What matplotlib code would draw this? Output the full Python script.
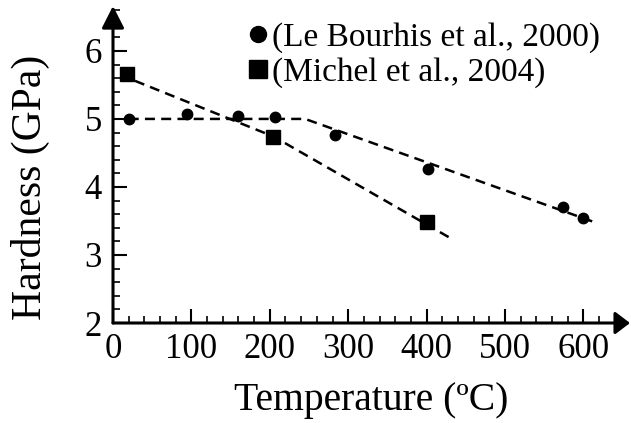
import matplotlib
matplotlib.use("Agg")
import matplotlib.pyplot as plt
from matplotlib.lines import Line2D
from matplotlib.ticker import MultipleLocator

plt.rcParams['font.family'] = ['Liberation Serif', 'DejaVu Serif']

# Le Bourhis et al., 2000 (circles)
bourhis_temp = [20, 94, 159, 207, 283, 402, 574, 600]
bourhis_hard = [5.00, 5.07, 5.05, 5.03, 4.77, 4.26, 3.70, 3.54]

# Michel et al., 2004 (squares)
michel_temp = [18, 204, 400]
michel_hard = [5.66, 4.74, 3.48]

# dashed guide lines through each data set
bourhis_fit_temp = [20, 245, 617]
bourhis_fit_hard = [5.00, 5.00, 3.47]
michel_fit_temp = [28, 205, 430]
michel_fit_hard = [5.56, 4.74, 3.25]

labels = ["(Le Bourhis et al., 2000)", "(Michel et al., 2004)"]

fig = plt.figure(figsize=(6.31, 4.23), dpi=100)
ax = fig.add_axes([113 / 631, 100 / 423, 517 / 631, 317 / 423])

ax.plot(bourhis_fit_temp, bourhis_fit_hard, color='k', lw=1.8, dashes=(4, 2.5))
ax.plot(michel_fit_temp, michel_fit_hard, color='k', lw=1.8, dashes=(4, 2.5))
ax.plot(bourhis_temp, bourhis_hard, 'o', color='k', ms=7.5, clip_on=False)
ax.plot(michel_temp, michel_hard, 's', color='k', ms=10, clip_on=False)

ax.set_xlim(0, 659.4)
ax.set_ylim(2, 6.66)
ax.xaxis.set_minor_locator(MultipleLocator(20))
ax.yaxis.set_minor_locator(MultipleLocator(0.2))
ax.set_xticks(range(0, 601, 100))
ax.set_yticks(range(2, 7))

for s in ax.spines.values():
    s.set_visible(False)

# axis lines with arrow heads
ax.annotate('', xy=(1, 0), xytext=(0, 0), xycoords='axes fraction',
            arrowprops=dict(arrowstyle='-|>,head_length=0.5,head_width=0.38',
                            lw=2.2, color='k', shrinkA=0, shrinkB=0,
                            mutation_scale=18))
ax.annotate('', xy=(0, 1), xytext=(0, 0), xycoords='axes fraction',
            arrowprops=dict(arrowstyle='-|>,head_length=0.75,head_width=0.38',
                            lw=2.2, color='k', shrinkA=0, shrinkB=0,
                            mutation_scale=18))

ax.tick_params(which='major', direction='in', length=10, width=1.5, labelsize=25)
ax.tick_params(which='minor', direction='in', length=5, width=1.2)
ax.tick_params(axis='x', which='major', pad=7)
ax.tick_params(axis='y', which='major', pad=8)

ax.set_xlabel("Temperature (ºC)", fontsize=28.5, va='center')
ax.xaxis.set_label_coords(0.5, -(400 - 323) / 317)
ax.set_ylabel("Hardness (GPa)", fontsize=30, va='center')
ax.yaxis.set_label_coords(-(113 - 30) / 517, (323 - 187) / 317)

handles = [Line2D([], [], marker='o', color='k', ls='none', ms=11.5),
           Line2D([], [], marker='s', color='k', ls='none', ms=13)]
fig.legend(handles, labels, loc='center left', bbox_to_anchor=(250 / 631, 1 - 55 / 423),
           frameon=False, fontsize=24, handlelength=0.5, handletextpad=0.15,
           borderpad=0, borderaxespad=0, labelspacing=0.12)

fig.savefig("out.png", dpi=100)
